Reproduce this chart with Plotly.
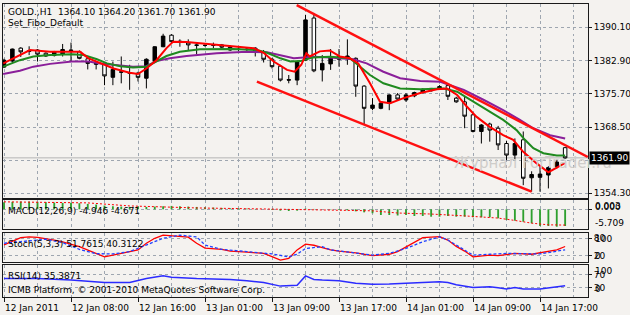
import plotly.graph_objects as go

# ---------------- data ----------------
BARS = list(range(68))
OPEN = [1381.5, 1382.8, 1385.6, 1384.9, 1385.2, 1384.5, 1384.0, 1384.3, 1385.2, 1384.8,
        1383.3, 1382.1, 1382.1, 1379.3, 1380.5, 1380.3, 1380.2, 1379.1, 1382.7, 1385.9,
        1388.4, 1387.1, 1386.8, 1386.3, 1386.2, 1386.3, 1386.3, 1385.2, 1385.4, 1385.4,
        1385.6, 1384.8, 1383.2, 1381.7, 1378.8, 1378.7, 1383.0, 1392.1, 1380.9, 1382.2,
        1383.2, 1383.3, 1383.4, 1377.4, 1372.6, 1372.6, 1373.7, 1375.5, 1374.4, 1375.3,
        1376.0, 1376.4, 1376.9, 1377.5, 1374.8, 1374.0, 1371.2, 1367.6, 1369.2, 1368.3,
        1365.0, 1362.5, 1365.8, 1357.6, 1357.7, 1358.2, 1360.0, 1364.1]
HIGH = [1383.3, 1385.5, 1385.8, 1386.0, 1385.4, 1384.7, 1385.0, 1386.5, 1386.8, 1385.1,
        1383.5, 1382.8, 1382.4, 1382.7, 1383.8, 1382.0, 1380.5, 1383.4, 1386.0, 1388.7,
        1388.6, 1387.5, 1387.5, 1386.8, 1386.4, 1386.8, 1386.5, 1386.2, 1385.9, 1385.8,
        1385.8, 1385.2, 1383.5, 1382.0, 1379.8, 1382.8, 1392.8, 1393.2, 1384.1, 1385.4,
        1385.4, 1387.5, 1383.6, 1377.6, 1374.8, 1374.0, 1375.6, 1375.9, 1375.9, 1376.2,
        1376.9, 1377.0, 1377.6, 1378.0, 1375.1, 1375.1, 1371.6, 1369.2, 1369.5, 1368.8,
        1365.6, 1366.1, 1367.6, 1359.0, 1360.0, 1360.1, 1361.5, 1364.2]
LOW = [1381.3, 1382.3, 1383.7, 1384.1, 1382.7, 1383.7, 1383.8, 1383.8, 1382.7, 1383.2,
       1381.0, 1381.0, 1377.6, 1377.6, 1378.0, 1376.6, 1378.4, 1376.9, 1382.5, 1385.8,
       1386.7, 1385.9, 1385.2, 1384.3, 1385.9, 1385.6, 1385.6, 1385.0, 1385.0, 1384.9,
       1383.8, 1382.5, 1381.2, 1378.4, 1378.0, 1377.6, 1382.8, 1380.4, 1378.4, 1380.9,
       1381.6, 1382.0, 1375.1, 1369.0, 1372.2, 1372.4, 1372.2, 1374.3, 1374.0, 1375.0,
       1375.8, 1376.2, 1376.7, 1374.4, 1373.8, 1368.3, 1367.4, 1365.0, 1365.4, 1363.6,
       1361.4, 1361.4, 1356.0, 1354.6, 1354.6, 1355.3, 1359.6, 1361.7]
CLOSE = [1383.0, 1385.4, 1384.8, 1385.0, 1384.3, 1383.9, 1384.8, 1385.3, 1385.1, 1383.4,
         1382.3, 1382.5, 1379.6, 1381.0, 1380.4, 1380.2, 1379.3, 1383.2, 1385.9, 1388.2,
         1387.0, 1387.0, 1386.3, 1386.2, 1386.2, 1386.2, 1385.8, 1385.8, 1385.3, 1385.3,
         1384.8, 1383.2, 1381.6, 1378.7, 1378.7, 1382.6, 1391.7, 1380.7, 1382.3, 1383.6,
         1383.8, 1383.9, 1377.4, 1372.6, 1373.3, 1373.7, 1375.5, 1374.6, 1375.5, 1376.0,
         1376.7, 1376.9, 1377.3, 1375.2, 1374.0, 1370.9, 1367.6, 1369.0, 1367.9, 1364.7,
         1362.5, 1365.0, 1357.5, 1358.3, 1358.4, 1359.8, 1361.0, 1361.9]

# moving averages (bar position, price)
MA_RED_X = [-0.1, 1.9, 3.1, 5.5, 8.1, 9.1, 10.1, 11.5, 13.1, 15.0, 16.0, 17.0, 18.2, 19.4,
            20.2, 21.8, 25.0, 27.4, 29.8, 31.0, 32.2, 33.8, 34.7, 35.5, 36.1, 36.5, 37.7,
            38.9, 40.1, 41.3, 42.3, 43.7, 44.9, 46.1, 47.7, 49.7, 51.7, 52.9, 54.1, 55.2,
            56.4, 58.0, 59.6, 60.8, 62.0, 63.6, 65.0, 66.0, 67.0]
MA_RED = [1382.3, 1384.1, 1385.2, 1384.8, 1384.8, 1384.8, 1383.4, 1382.3, 1381.2, 1380.3,
          1380.0, 1381.2, 1383.0, 1385.6, 1387.0, 1386.9, 1386.4, 1385.9, 1385.6, 1384.6,
          1382.7, 1380.9, 1380.5, 1382.0, 1384.5, 1383.8, 1384.9, 1385.1, 1383.8, 1383.4,
          1382.3, 1378.0, 1374.0, 1373.7, 1374.8, 1375.9, 1376.7, 1376.9, 1375.5, 1373.1,
          1370.8, 1368.6, 1366.8, 1365.8, 1363.2, 1360.7, 1358.8, 1359.8, 1360.8]
MA_GREEN_X = [-0.1, 1.9, 3.5, 5.5, 8.1, 9.5, 11.1, 12.3, 13.9, 15.4, 17.0, 18.2, 19.4, 21.0,
              23.4, 27.4, 30.2, 31.4, 33.0, 34.2, 35.4, 36.9, 38.9, 41.3, 42.5, 43.7, 45.3,
              47.3, 49.7, 52.5, 54.1, 55.7, 57.6, 59.6, 61.2, 62.2, 63.2, 64.4, 66.0, 67.0]
MA_GREEN = [1381.6, 1383.0, 1383.8, 1384.1, 1384.3, 1384.1, 1383.2, 1382.3, 1381.7, 1381.4,
            1381.6, 1382.7, 1383.9, 1384.8, 1385.35, 1385.4, 1385.2, 1384.6, 1383.4, 1382.7,
            1382.8, 1383.6, 1383.75, 1383.4, 1381.6, 1379.8, 1378.0, 1376.9, 1376.7, 1376.9,
            1376.2, 1374.4, 1372.2, 1370.1, 1367.9, 1365.8, 1364.0, 1362.9, 1362.4, 1362.4]
MA_PURPLE_X = [-0.1, 1.9, 3.5, 5.5, 8.1, 10.1, 11.5, 13.1, 15.4, 17.0, 18.2, 19.8, 21.8,
               25.4, 29.0, 31.4, 33.0, 34.6, 35.8, 36.9, 38.9, 41.7, 43.3, 45.3, 47.3, 49.7,
               52.1, 53.3, 54.9, 57.3, 59.6, 61.6, 63.2, 65.2, 67.0]
MA_PURPLE = [1380.0, 1380.7, 1381.6, 1382.2, 1382.7, 1382.7, 1382.3, 1382.0, 1381.6, 1381.7,
             1382.8, 1383.4, 1383.9, 1384.5, 1384.8, 1384.7, 1384.1, 1383.4, 1383.6, 1383.75,
             1383.6, 1383.2, 1382.3, 1380.5, 1379.1, 1378.5, 1378.35, 1377.6, 1376.6, 1374.4,
             1372.2, 1370.1, 1368.3, 1366.8, 1366.1]

# trend channel drawn on the chart
CHAN_UP_X = [34.95, 69.7]
CHAN_UP_Y = [1394.9, 1362.1]
CHAN_LO_X = [30.2, 63.0]
CHAN_LO_Y = [1378.35, 1354.6]
BID = 1361.90

# MACD(12,26,9)
MACD_HIST = [2.1, 2.2, 2.3, 2.3, 2.2, 2.1, 2.0, 1.9, 1.9, 1.8, 1.6, 1.4, 1.1, 0.9, 0.8, 0.7,
             0.8, 0.7, 0.8, 0.9, 1.0, 0.9, 0.8, 0.7, 0.6, 0.5, 0.4, 0.3, 0.3, 0.2, 0.1, 0.0,
             -0.2, -0.4, -0.5, -0.4, 0.2, 0.1, 0.0, -0.1, -0.2, -0.3, -0.6, -0.9, -1.18, -1.69,
             -1.69, -1.83, -1.69, -1.98, -1.98, -2.19, -2.19, -1.98, -2.19, -2.19, -2.37, -2.37,
             -2.37, -2.66, -3.17, -3.37, -3.67, -4.14, -4.94, -4.94, -5.15, -4.946]
MACD_SIG_X = [0, 10, 15, 23, 31, 39, 44, 47, 51, 55, 59, 61, 63, 65, 67]
MACD_SIG = [2.2, 1.9, 1.0, 0.4, 0.1, -0.2, -0.45, -1.1, -1.4, -1.95, -2.6, -3.3, -4.1, -4.6, -4.671]

# Stochastic(5,3,3)
STO_MAIN_X = [0, 2, 3, 4, 6, 7, 9, 11, 12, 13, 15, 16, 17, 18, 19, 21, 22, 23, 24, 26, 27,
              29, 31, 32, 33, 34, 35, 36, 37, 38, 39, 40, 42, 44, 46, 47, 48, 49, 50, 52, 53,
              54, 55, 56, 58, 59, 61, 63, 64, 66, 67]
STO_MAIN = [57, 82, 85, 83, 74, 68, 51, 28, 16, 22, 34, 40, 63, 80, 91, 88, 84, 63, 46, 42,
            36, 32, 28, 17, 5, 11, 40, 60, 56, 48, 40, 36, 30, 20, 25, 34, 51, 68, 82, 86, 74,
            52, 36, 16, 22, 20, 28, 25, 30, 40, 51.7615]
STO_SIG_X = [0, 2, 5, 7, 9, 11, 13, 15, 17, 19, 21, 23, 24, 26, 29, 32, 34, 35, 36, 38, 39,
             44, 46, 48, 50, 52, 53, 56, 58, 60, 64, 66, 67]
STO_SIG = [63, 68, 77, 65, 42, 27, 26, 34, 57, 80, 91, 85, 57, 42, 34, 26, 16, 25, 45, 51,
           40, 22, 28, 45, 68, 85, 74, 22, 25, 28, 26, 34, 40.3122]

# RSI(14)
RSI_X = [0, 4, 8, 12, 15, 17, 19, 20, 23, 27, 29, 31, 33, 35, 36, 37, 38, 40, 42, 44, 46,
         48, 52, 53, 54, 56, 58, 59, 60, 61, 62, 64, 66, 67]
RSI = [58, 58, 53, 45, 45, 58, 66, 62, 58, 55, 51, 45, 34, 37, 66, 55, 53, 51, 43, 40, 41,
       43, 48, 45, 38, 30, 32, 29, 25, 30, 25, 25, 32, 35.3871]

# axis labels
PRICE_TICKS = [1390.10, 1382.90, 1375.70, 1368.50, 1361.30, 1354.30]
PRICE_TEXT = ["1390.10", "1382.90", "1375.70", "1368.50", "", "1354.30"]
TIME_POS = [0, 8, 16, 24, 32, 40, 48, 56, 64]
TIME_TEXT = ["12 Jan 2011", "12 Jan 08:00", "12 Jan 16:00", "13 Jan 01:00", "13 Jan 09:00",
             "13 Jan 17:00", "14 Jan 01:00", "14 Jan 09:00", "14 Jan 17:00"]
GRID_MINOR = [4, 12, 20, 28, 36, 44, 52, 60, 68]

# ---------------- styling ----------------
W, H = 630, 315
BG = "#f4f2ef"
BORDER = "#1a1a1a"
GRID = "#9ea6b0"
FONT = "DejaVu Sans"
FS = 9


def py(px):  # pixel row -> paper y
    return 1 - px / H


def pxx(px):
    return px / W


XDOM = [pxx(3), pxx(588)]
XR = [-0.12, 69.73]

fig = go.Figure()

fig.add_trace(go.Candlestick(
    x=BARS, open=OPEN, high=HIGH, low=LOW, close=CLOSE,
    increasing=dict(line=dict(color="#000000", width=1), fillcolor="#000000"),
    decreasing=dict(line=dict(color="#000000", width=1), fillcolor="#ffffff"),
    whiskerwidth=0, showlegend=False, hoverinfo="skip", xaxis="x", yaxis="y"))

for xs, ys, col in [(MA_PURPLE_X, MA_PURPLE, "#8a1f9a"),
                    (MA_GREEN_X, MA_GREEN, "#1f8a1f"),
                    (MA_RED_X, MA_RED, "#ff0000")]:
    fig.add_trace(go.Scatter(x=xs, y=ys, mode="lines", line=dict(color=col, width=2),
                             showlegend=False, hoverinfo="skip", xaxis="x", yaxis="y"))

for xs, ys in [(CHAN_UP_X, CHAN_UP_Y), (CHAN_LO_X, CHAN_LO_Y)]:
    fig.add_trace(go.Scatter(x=xs, y=ys, mode="lines", line=dict(color="#ff1010", width=2.5),
                             showlegend=False, hoverinfo="skip", xaxis="x", yaxis="y"))

# MACD
fig.add_trace(go.Bar(x=BARS, y=MACD_HIST, width=0.22, marker=dict(color="#2ea02e", line=dict(width=0)),
                     showlegend=False, hoverinfo="skip", xaxis="x2", yaxis="y2"))
fig.add_trace(go.Scatter(x=MACD_SIG_X, y=MACD_SIG, mode="lines",
                         line=dict(color="#ff0000", width=1, dash="2px,2px"),
                         showlegend=False, hoverinfo="skip", xaxis="x2", yaxis="y2"))
# Stochastic
fig.add_trace(go.Scatter(x=STO_MAIN_X, y=STO_MAIN, mode="lines", line=dict(color="#ff0000", width=1.3),
                         showlegend=False, hoverinfo="skip", xaxis="x3", yaxis="y3"))
fig.add_trace(go.Scatter(x=STO_SIG_X, y=STO_SIG, mode="lines",
                         line=dict(color="#2040ff", width=1.3, dash="3px,2px"),
                         showlegend=False, hoverinfo="skip", xaxis="x3", yaxis="y3"))
# RSI
fig.add_trace(go.Scatter(x=RSI_X, y=RSI, mode="lines", line=dict(color="#2b2bff", width=1.5),
                         showlegend=False, hoverinfo="skip", xaxis="x4", yaxis="y4"))


def xaxis(anchor, labels=False):
    d = dict(domain=XDOM, range=XR, anchor=anchor, showline=True, mirror=True,
             linecolor=BORDER, linewidth=1, zeroline=False, automargin=False,
             tickmode="array", tickvals=TIME_POS,
             ticktext=TIME_TEXT if labels else [""] * len(TIME_POS),
             showticklabels=labels, ticks="outside" if labels else "",
             ticklen=4, tickcolor=BORDER,
             showgrid=True, gridcolor=GRID, griddash="3px,3px", gridwidth=1,
             minor=dict(tickmode="array", tickvals=GRID_MINOR, showgrid=True,
                        gridcolor=GRID, griddash="3px,3px", gridwidth=1, ticks=""),
             fixedrange=True, rangeslider=dict(visible=False))
    if labels:
        d["ticklabelposition"] = "outside right"
        d["ticklabelstandoff"] = 2
    return d


def yaxis(anchor, dom, rng, tv, tt):
    return dict(domain=dom, range=rng, anchor=anchor, side="right", showline=True, mirror=True,
                linecolor=BORDER, linewidth=1, zeroline=False, automargin=False,
                tickmode="array", tickvals=tv, ticktext=tt,
                ticks="outside", ticklen=3, tickcolor=BORDER,
                showgrid=True, gridcolor=GRID, griddash="3px,3px", gridwidth=1,
                fixedrange=True)


ann = []


def txt(x, y, s, color="#000000", size=FS, xanchor="left", **kw):
    ann.append(dict(x=pxx(x), y=py(y), xref="paper", yref="paper", text=s, showarrow=False,
                    xanchor=xanchor, yanchor="middle", font=dict(family=FONT, size=size, color=color),
                    **kw))


# watermark (drawn first, under the price tag)
txt(452, 163, "Журнал ForTrader.ru", color="#cfcdca", size=15)

txt(6, 11.7, "GOLD.,H1  1364.10 1364.20 1361.70 1361.90")
txt(6, 22.7, "Set_Fibo_Default")
txt(6, 210.5, "MACD(12,26,9) -4.946 -4.671")
txt(6, 244, "Stoch(5,3,3) 51.7615 40.3122")
txt(6, 276, "RSI(14) 35.3871")
txt(6, 289.7, "ICMB Platform, © 2001-2010 MetaQuotes Software Corp.")

# overlapping sub-window scale labels (they overlap in the original too)
txt(593, 205.6, "0.003")
txt(593, 207.4, "0.000")
txt(593, 222.7, "-5.709")
txt(593, 239.2, "100")
txt(593, 256.2, "0")
txt(593, 271.0, "100")
txt(593, 288.6, "0")

# current price tag
ann.append(dict(x=pxx(589), y=BID, xref="paper", yref="y", text="1361.90", showarrow=False,
                xanchor="left", yanchor="middle", bgcolor="#000000", borderpad=1,
                font=dict(family=FONT, size=FS, color="#ffffff")))

fig.update_layout(
    width=W, height=H, margin=dict(l=0, r=0, t=0, b=0, autoexpand=False),
    paper_bgcolor=BG, plot_bgcolor=BG, showlegend=False, boxgap=0.4,
    font=dict(family=FONT, size=FS, color="#000000"),
    xaxis=xaxis("y"), xaxis2=xaxis("y2"), xaxis3=xaxis("y3"), xaxis4=xaxis("y4", labels=True),
    yaxis=yaxis("x", [py(197.5), py(3.5)], [1353.34, 1395.24], PRICE_TICKS, PRICE_TEXT),
    yaxis2=yaxis("x2", [py(229), py(200)], [-5.83, 2.75], [0], [""]),
    yaxis3=yaxis("x3", [py(261.5), py(232.5)], [0, 100], [80, 20], ["80", "20"]),
    yaxis4=yaxis("x4", [py(297), py(265)], [0, 100], [70, 30], ["70", "30"]),
    annotations=ann,
    shapes=[dict(type="line", xref="x", yref="y", x0=XR[0], x1=XR[1], y0=BID, y1=BID,
                 line=dict(color="#b4b4b4", width=1), layer="below")],
)

fig.write_html("out.html", config=dict(displayModeBar=False, staticPlot=True))
